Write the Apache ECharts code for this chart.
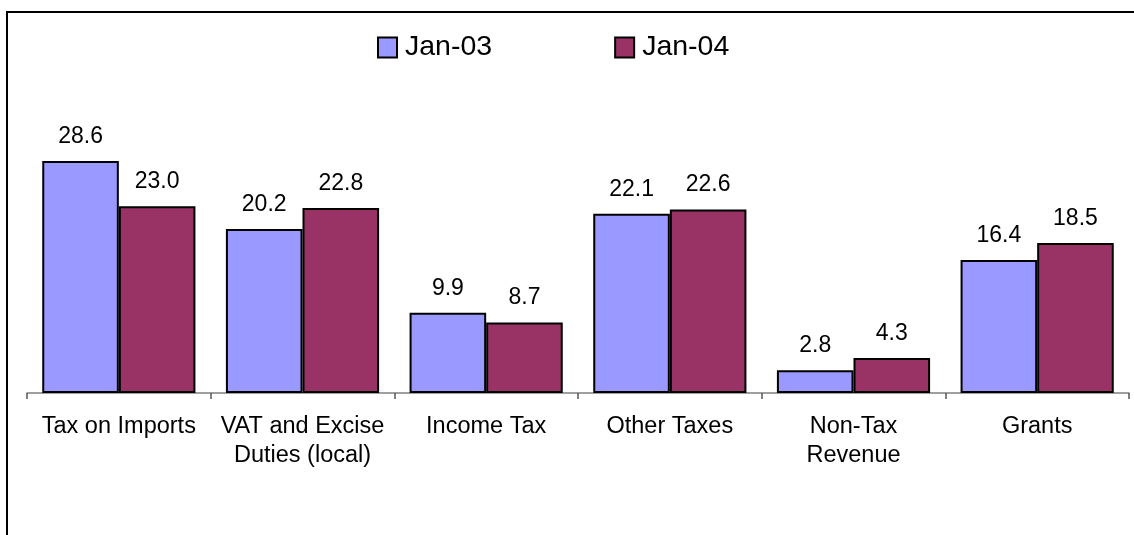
<!DOCTYPE html>
<html>
<head>
<meta charset="utf-8">
<script src="https://cdn.jsdelivr.net/npm/echarts@6/dist/echarts.min.js"></script>
<style>
  html, body { margin: 0; padding: 0; background: #fff; }
  #chart { width: 1134px; height: 535px; }
</style>
</head>
<body>
<div id="chart"></div>
<script>
// Revenue by category, two periods
const categories = [
  'Tax on Imports',
  'VAT and Excise\nDuties (local)',
  'Income Tax',
  'Other Taxes',
  'Non-Tax\nRevenue',
  'Grants'
];
const seriesNames = ['Jan-03', 'Jan-04'];
const jan03 = [28.6, 20.2, 9.9, 22.1, 2.8, 16.4];
const jan04 = [23.0, 22.8, 8.7, 22.6, 4.3, 18.5];

const colors = ['#9999FF', '#993366'];
const font = '"Liberation Sans", Arial, sans-serif';

function barSeries(name, data, color) {
  return {
    name: name,
    type: 'bar',
    data: data,
    barGap: '0%',
    barCategoryGap: '16.6%',
    itemStyle: { color: color, borderColor: '#000', borderWidth: 2 },
    label: {
      show: true,
      position: 'top',
      distance: 13,
      color: '#000',
      fontFamily: font,
      fontSize: 23,
      lineHeight: 23,
      formatter: p => p.value.toFixed(1)
    }
  };
}

const chart = echarts.init(document.getElementById('chart'), null, { renderer: 'canvas' });
chart.setOption({
  animation: false,
  backgroundColor: '#fff',
  graphic: [{
    type: 'rect',
    shape: { x: 7, y: 12, width: 1300, height: 700 },
    style: { fill: 'none', stroke: '#000', lineWidth: 2 },
    silent: true,
    z: 0
  }],
  legend: {
    data: seriesNames,
    left: 377,
    top: 33,
    padding: 0,
    itemWidth: 19,
    itemHeight: 20,
    itemGap: 122,
    icon: 'rect',
    itemStyle: { borderColor: '#000', borderWidth: 2 },
    textStyle: { fontFamily: font, fontSize: 28.5, color: '#000', lineHeight: 28, padding: [0, 0, 0, 3] }
  },
  grid: { left: 27, right: 5, top: 109, bottom: 142, containLabel: false },
  xAxis: {
    type: 'category',
    data: categories,
    axisLine: { lineStyle: { color: '#808080', width: 1.5 } },
    axisTick: { show: true, length: 6, lineStyle: { color: '#555', width: 1.5 } },
    axisLabel: {
      interval: 0,
      margin: 19,
      color: '#000',
      fontFamily: font,
      fontSize: 23.5,
      lineHeight: 29
    }
  },
  yAxis: {
    type: 'value',
    min: 0,
    max: 35,
    show: false,
    splitLine: { show: false }
  },
  series: [
    barSeries(seriesNames[0], jan03, colors[0]),
    barSeries(seriesNames[1], jan04, colors[1])
  ]
});
</script>
</body>
</html>
